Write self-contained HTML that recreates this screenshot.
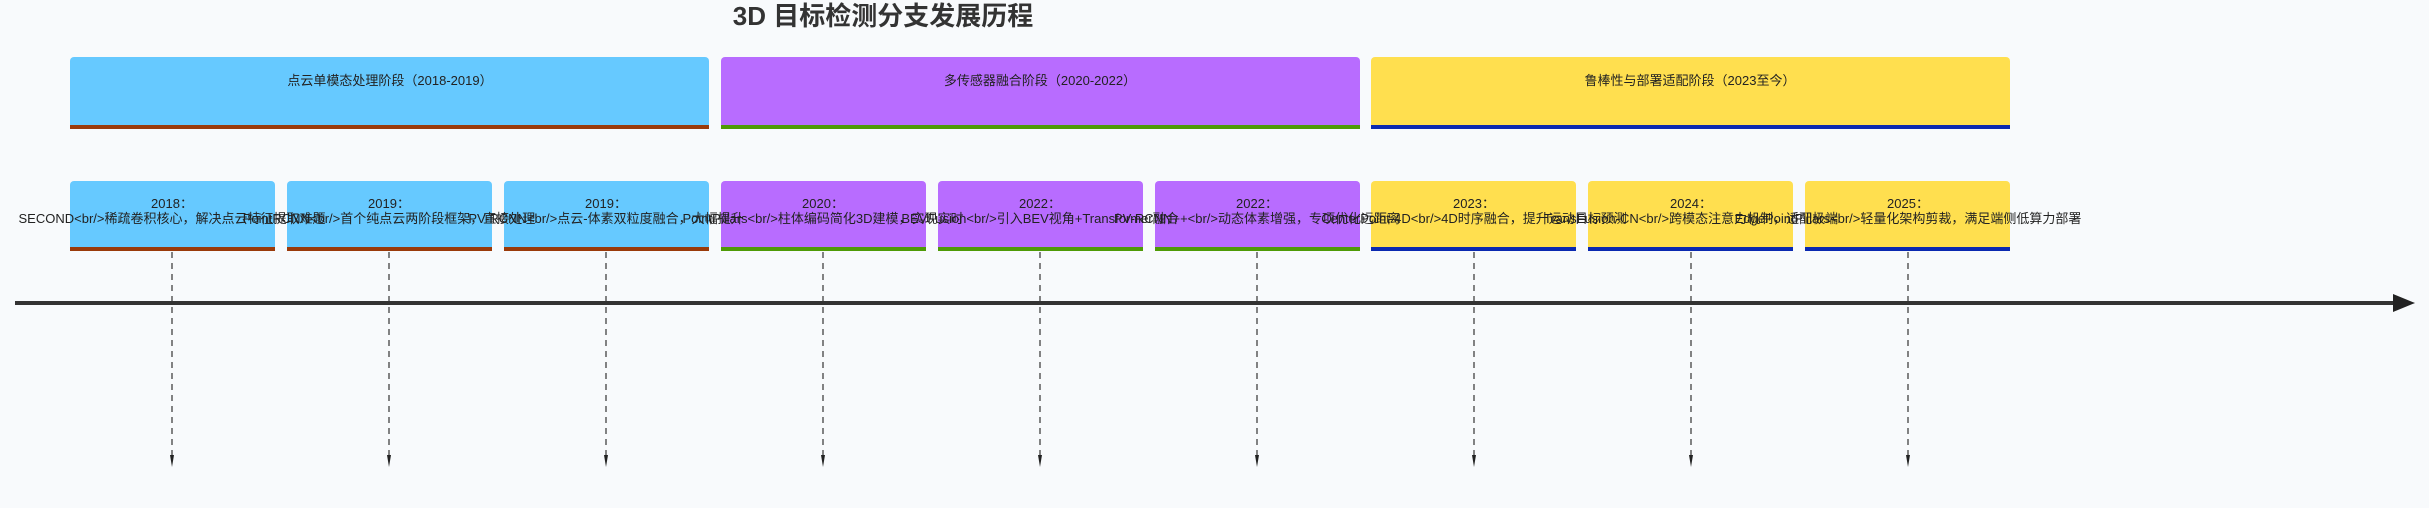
<!DOCTYPE html>
<html><head><meta charset="utf-8"><style>
html,body{margin:0;padding:0;background:#f8fafc;}
svg{display:block;}
text{font-family:"Liberation Sans","Noto Sans CJK SC",sans-serif;}
</style></head><body>
<svg width="2429" height="508" viewBox="0 0 2429 508" xmlns="http://www.w3.org/2000/svg">
<rect width="2429" height="508" fill="#f8fafc"/>
<text x="883" y="25" text-anchor="middle" font-size="26" font-weight="bold" fill="#333">3D 目标检测分支发展历程</text>

<!-- phases -->
<g>
<rect x="70" y="57" width="639" height="72" rx="4" fill="#66c9ff"/>
<rect x="70" y="125" width="639" height="4" fill="#9a3a0a"/>
<text x="390" y="85" text-anchor="middle" font-size="13" fill="#222">点云单模态处理阶段（2018-2019）</text>
<rect x="721" y="57" width="639" height="72" rx="4" fill="#b86cff"/>
<rect x="721" y="125" width="639" height="4" fill="#4e9a06"/>
<text x="1040" y="85" text-anchor="middle" font-size="13" fill="#222">多传感器融合阶段（2020-2022）</text>
<rect x="1371" y="57" width="639" height="72" rx="4" fill="#ffdf4f"/>
<rect x="1371" y="125" width="639" height="4" fill="#0a28b0"/>
<text x="1690" y="85" text-anchor="middle" font-size="13" fill="#222">鲁棒性与部署适配阶段（2023至今）</text>
</g>

<!-- timeline -->
<rect x="15" y="301" width="2382" height="4" fill="#333"/>
<polygon points="2393,294 2415,303 2393,312" fill="#222"/>

<!-- tasks -->
<g font-size="13" fill="#222" text-anchor="middle">
<rect x="70" y="181" width="205" height="70" rx="4" fill="#66c9ff"/><rect x="70" y="247" width="205" height="4" fill="#9a3a0a"/>
<rect x="287" y="181" width="205" height="70" rx="4" fill="#66c9ff"/><rect x="287" y="247" width="205" height="4" fill="#9a3a0a"/>
<rect x="504" y="181" width="205" height="70" rx="4" fill="#66c9ff"/><rect x="504" y="247" width="205" height="4" fill="#9a3a0a"/>
<rect x="721" y="181" width="205" height="70" rx="4" fill="#b86cff"/><rect x="721" y="247" width="205" height="4" fill="#4e9a06"/>
<rect x="938" y="181" width="205" height="70" rx="4" fill="#b86cff"/><rect x="938" y="247" width="205" height="4" fill="#4e9a06"/>
<rect x="1155" y="181" width="205" height="70" rx="4" fill="#b86cff"/><rect x="1155" y="247" width="205" height="4" fill="#4e9a06"/>
<rect x="1371" y="181" width="205" height="70" rx="4" fill="#ffdf4f"/><rect x="1371" y="247" width="205" height="4" fill="#0a28b0"/>
<rect x="1588" y="181" width="205" height="70" rx="4" fill="#ffdf4f"/><rect x="1588" y="247" width="205" height="4" fill="#0a28b0"/>
<rect x="1805" y="181" width="205" height="70" rx="4" fill="#ffdf4f"/><rect x="1805" y="247" width="205" height="4" fill="#0a28b0"/>

<text x="172" y="208">2018：</text>
<text x="389" y="208">2019：</text>
<text x="606" y="208">2019：</text>
<text x="823" y="208">2020：</text>
<text x="1040" y="208">2022：</text>
<text x="1257" y="208">2022：</text>
<text x="1474" y="208">2023：</text>
<text x="1691" y="208">2024：</text>
<text x="1908" y="208">2025：</text>

<text x="172" y="223">SECOND&lt;br/&gt;稀疏卷积核心，解决点云特征提取难题</text>
<text x="389" y="223">PointRCNN&lt;br/&gt;首个纯点云两阶段框架，直接处理</text>
<text x="606" y="223">PV-RCNN&lt;br/&gt;点云-体素双粒度融合，大幅提升</text>
<text x="823" y="223">PointPillars&lt;br/&gt;柱体编码简化3D建模，实现实时</text>
<text x="1040" y="223">BEVFusion&lt;br/&gt;引入BEV视角+Transformer融合</text>
<text x="1257" y="223">PV-RCNN++&lt;br/&gt;动态体素增强，专项优化远距离</text>
<text x="1474" y="223">CenterPoint-4D&lt;br/&gt;4D时序融合，提升运动目标预测</text>
<text x="1691" y="223">TransFusion-CN&lt;br/&gt;跨模态注意力机制，适配极端</text>
<text x="1908" y="223">EdgePointPillars&lt;br/&gt;轻量化架构剪裁，满足端侧低算力部署</text>
</g>

<!-- dashed connectors -->
<g stroke="#333" stroke-width="1.2" stroke-dasharray="6,5" fill="none">
<line x1="172" y1="252" x2="172" y2="456"/>
<line x1="389" y1="252" x2="389" y2="456"/>
<line x1="606" y1="252" x2="606" y2="456"/>
<line x1="823" y1="252" x2="823" y2="456"/>
<line x1="1040" y1="252" x2="1040" y2="456"/>
<line x1="1257" y1="252" x2="1257" y2="456"/>
<line x1="1474" y1="252" x2="1474" y2="456"/>
<line x1="1691" y1="252" x2="1691" y2="456"/>
<line x1="1908" y1="252" x2="1908" y2="456"/>
</g>
<g fill="#222">
<polygon points="170,455 174,455 172,467"/>
<polygon points="387,455 391,455 389,467"/>
<polygon points="604,455 608,455 606,467"/>
<polygon points="821,455 825,455 823,467"/>
<polygon points="1038,455 1042,455 1040,467"/>
<polygon points="1255,455 1259,455 1257,467"/>
<polygon points="1472,455 1476,455 1474,467"/>
<polygon points="1689,455 1693,455 1691,467"/>
<polygon points="1906,455 1910,455 1908,467"/>
</g>
</svg>
</body></html>
